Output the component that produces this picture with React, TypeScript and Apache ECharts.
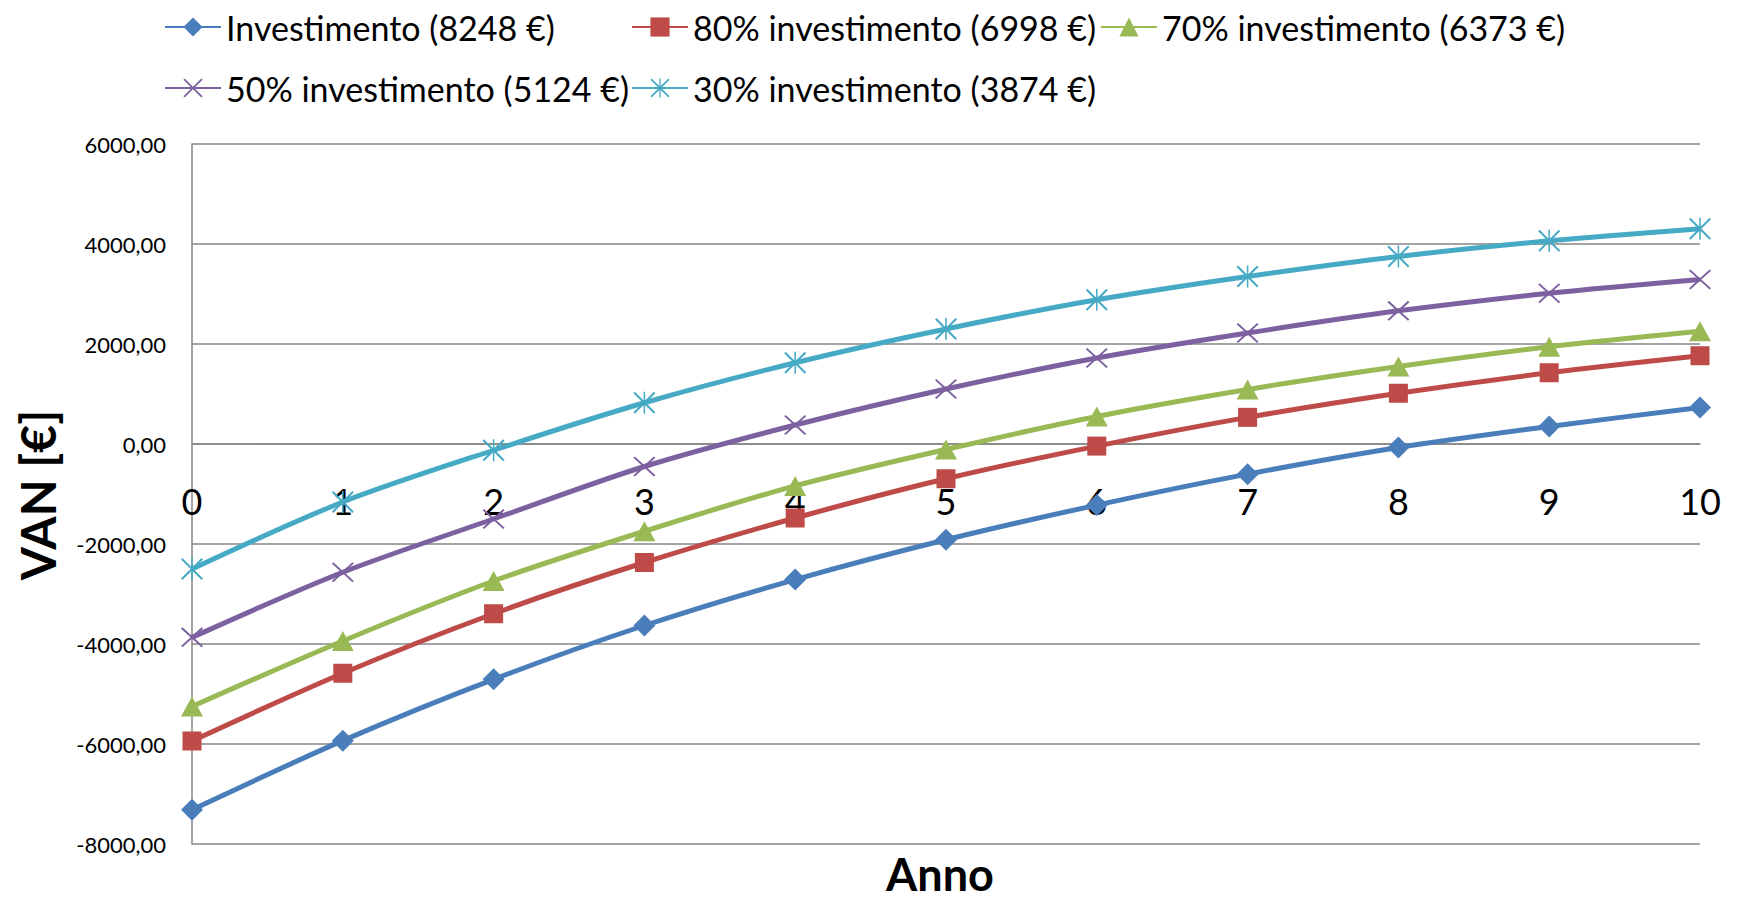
import React, { useEffect, useRef } from 'react';
import * as echarts from 'echarts';

const years = ['0', '1', '2', '3', '4', '5', '6', '7', '8', '9', '10'];
const yTicks = { min: -8000, max: 6000, step: 2000 };

const names = [
  'Investimento (8248 €)',
  '80% investimento (6998 €)',
  '70% investimento (6373 €)',
  '50% investimento (5124 €)',
  '30% investimento (3874 €)',
];

const investimento = [-7315, -5933, -4707, -3630, -2711, -1915, -1222, -603, -70, 350, 730];
const inv80 = [-5940, -4585, -3395, -2370, -1480, -695, -42, 533, 1015, 1425, 1765];
const inv70 = [-5250, -3940, -2740, -1745, -838, -110, 550, 1090, 1550, 1945, 2255];
const inv50 = [-3867, -2565, -1500, -450, 380, 1100, 1720, 2220, 2663, 3015, 3290];
const inv30 = [-2500, -1160, -125, 825, 1625, 2300, 2885, 3350, 3750, 4063, 4305];

const colors = ['#4A7EBB', '#BE4B48', '#98B954', '#7D60A0', '#46AAC5'];

const X_PATH = 'path://M0,1.3 L1.3,0 L20,18.7 L18.7,20 Z M18.7,0 L20,1.3 L1.3,20 L0,18.7 Z';
const STAR_PATH =
  'path://M0,1.3 L1.3,0 L20,18.7 L18.7,20 Z M18.7,0 L20,1.3 L1.3,20 L0,18.7 Z M9.3,0 L10.7,0 L10.7,20 L9.3,20 Z';

const symbols: any[] = ['diamond', 'rect', 'triangle', X_PATH, STAR_PATH];
const symbolSizes: any[] = [22, 19, [22, 20], [22, 20], [22, 22]];
const dataSets = [investimento, inv80, inv70, inv50, inv30];

const legendPos = [
  { left: 164, top: 10 },
  { left: 631, top: 10 },
  { left: 1100, top: 10 },
  { left: 164, top: 71 },
  { left: 631, top: 71 },
];

const FONT = 'Lato, "Open Sans", sans-serif';

export default function App() {
  const ref = useRef<HTMLDivElement>(null);
  useEffect(() => {
    document.body.style.margin = '0';
    const chart = echarts.init(ref.current!, null, { renderer: 'svg' });
    const option: any = {
      animation: false,
      backgroundColor: '#ffffff',
      color: colors,
      textStyle: { fontFamily: FONT },
      legend: names.map((n, i) => ({
        data: [n],
        left: legendPos[i].left,
        top: legendPos[i].top,
        padding: 0,
        itemWidth: 56,
        itemHeight: 24,
        textStyle: { fontSize: 34, color: '#000', fontFamily: FONT },
        selectedMode: false,
      })),
      grid: { left: 192, right: 42, top: 144, bottom: 58, containLabel: false },
      xAxis: {
        type: 'category',
        data: years,
        boundaryGap: false,
        offset: -400,
        axisLine: { show: true, onZero: false, lineStyle: { color: '#868686', width: 1.5 } },
        axisTick: { show: false },
        axisLabel: { fontSize: 36, color: '#000', margin: 39, fontFamily: FONT },
        splitLine: { show: false },
      },
      yAxis: {
        type: 'value',
        min: yTicks.min,
        max: yTicks.max,
        interval: yTicks.step,
        axisLine: { show: true, lineStyle: { color: '#868686', width: 1.5 } },
        axisTick: { show: false },
        axisLabel: {
          fontSize: 22,
          color: '#000',
          margin: 26,
          fontFamily: FONT,
          formatter: (v: number) => v.toFixed(2).replace('.', ','),
        },
        splitLine: { show: true, lineStyle: { color: '#868686', width: 1.5 } },
      },
      series: names.map((n, i) => ({
        name: n,
        type: 'line',
        data: dataSets[i],
        smooth: 0.3,
        symbol: symbols[i],
        symbolSize: symbolSizes[i],
        showSymbol: true,
        showAllSymbol: true,
        lineStyle: { width: 5, color: colors[i] },
        itemStyle: { color: colors[i], borderWidth: 0 },
        z: 2 + i,
      })),
      graphic: [
        {
          type: 'text',
          x: 37,
          y: 495,
          rotation: Math.PI / 2,
          style: {
            text: 'VAN [€]',
            font: `bold 48px ${FONT}`,
            fill: '#000',
            textAlign: 'center',
            textVerticalAlign: 'middle',
          },
        },
        {
          type: 'text',
          x: 940,
          y: 874,
          style: {
            text: 'Anno',
            font: `bold 45px ${FONT}`,
            fill: '#000',
            textAlign: 'center',
            textVerticalAlign: 'middle',
          },
        },
      ],
    };
    chart.setOption(option);
    return () => chart.dispose();
  }, []);
  return <div ref={ref} style={{ position: 'absolute', left: 0, top: 0, width: 1742, height: 902 }} />;
}
